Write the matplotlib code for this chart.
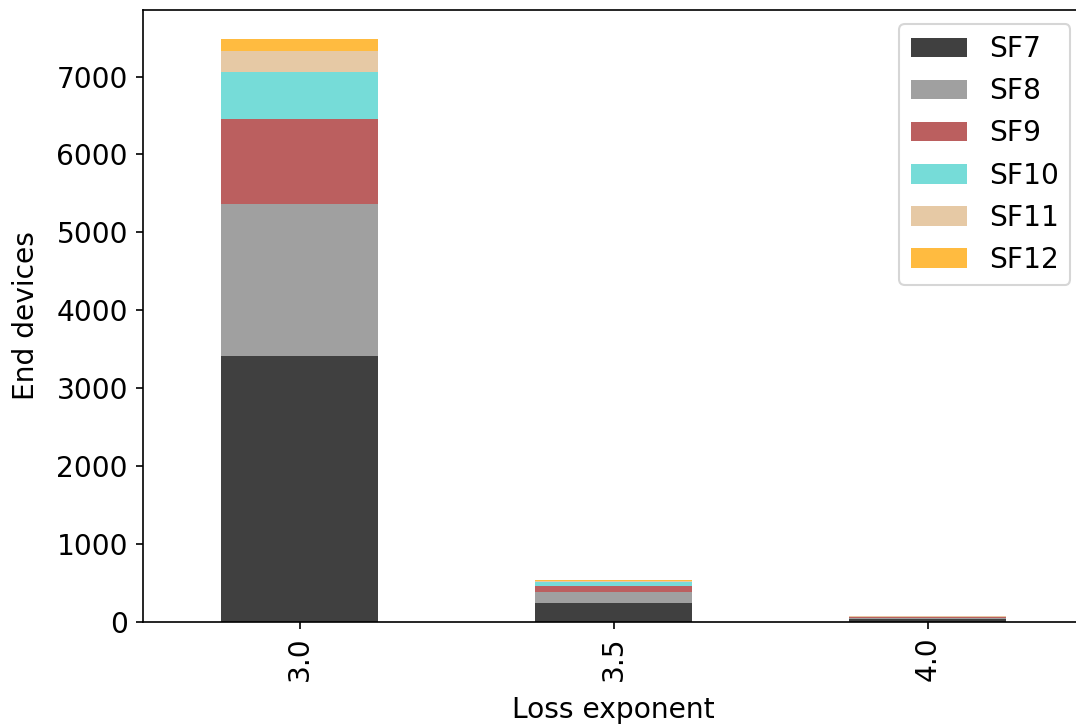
import matplotlib
matplotlib.use("Agg")
import matplotlib.pyplot as plt
import numpy as np

categories = ["3.0", "3.5", "4.0"]
series_names = ["SF7", "SF8", "SF9", "SF10", "SF11", "SF12"]
sf7 = [3410, 245, 40]
sf8 = [1960, 145, 15]
sf9 = [1090, 77, 12]
sf10 = [600, 47, 3]
sf11 = [270, 12, 4]
sf12 = [150, 13, 3]
colors = ["black", "grey", "brown", "mediumturquoise", "burlywood", "orange"]

values = [sf7, sf8, sf9, sf10, sf11, sf12]

plt.rcParams["font.size"] = 13.5

fig, ax = plt.subplots(figsize=(1076/150, 725/150), dpi=150)
x = np.arange(len(categories))
bottom = np.zeros(len(categories))
for name, vals, c in zip(series_names, values, colors):
    ax.bar(x, vals, width=0.5, bottom=bottom, color=c, alpha=0.75, label=name)
    bottom += np.array(vals)

ax.set_xlim(-0.5, len(categories) - 0.5)
ax.set_xticks(x)
ax.set_xticklabels(categories, rotation=90)
ax.set_xlabel("Loss exponent", labelpad=7)
ax.set_ylabel("End devices", labelpad=8)
ax.legend(loc="upper right")
fig.subplots_adjust(left=142.5/1076, right=1084.5/1076, top=1-10/725, bottom=1-622/725)
fig.savefig("out.png", dpi=150)
